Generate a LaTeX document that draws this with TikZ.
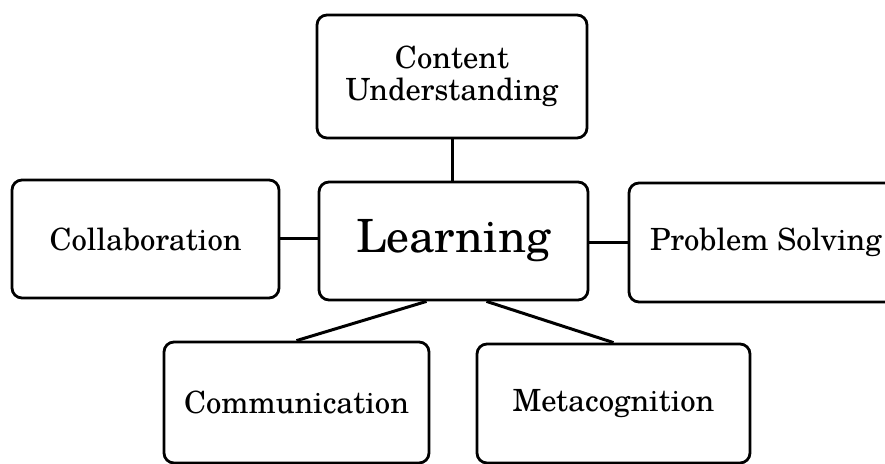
\documentclass[tikz,border=0pt]{standalone}
\usepackage{fontspec}
\setmainfont{TeX Gyre Schola}
\usetikzlibrary{calc}
\begin{document}
\begin{tikzpicture}[x=0.5pt,y=-0.5pt,
  box/.style={draw=black,line width=1.4pt,rounded corners=5pt,align=center,inner sep=0pt,font=\fontsize{15.3}{16.3}\selectfont},
  link/.style={draw=black,line width=1.5pt}]
\useasboundingbox (0,0) rectangle (885,464);
\node[box,minimum width=135pt,minimum height=61.5pt] (cu) at (452,76.5) {Content\\Understanding};
\node[box,minimum width=134.5pt,minimum height=59pt,font=\fontsize{22.9}{26}\selectfont] (le) at (453.5,241) {Learning};
\node[box,minimum width=133.5pt,minimum height=59pt] (co) at (145.5,239) {Collaboration};
\node[box,minimum width=137pt,minimum height=59.5pt] (ps) at (766,242.5) {Problem Solving};
\node[box,minimum width=132.5pt,minimum height=60.5pt] (cm) at (296.5,402.5) {Communication};
\node[box,minimum width=136.5pt,minimum height=59.5pt] (me) at (613.5,403.5) {Metacognition};
\draw[link] (cu.south) -- (cu.south |- le.north);
\draw[link] (co.east) -- (co.east -| le.west);
\draw[link] (le.east |- ps.west) -- (ps.west);
\draw[link] ($(le.south)+(-27,0)$) -- (cm.north);
\draw[link] ($(le.south)+(33,0)$) -- (me.north);
\end{tikzpicture}
\end{document}
